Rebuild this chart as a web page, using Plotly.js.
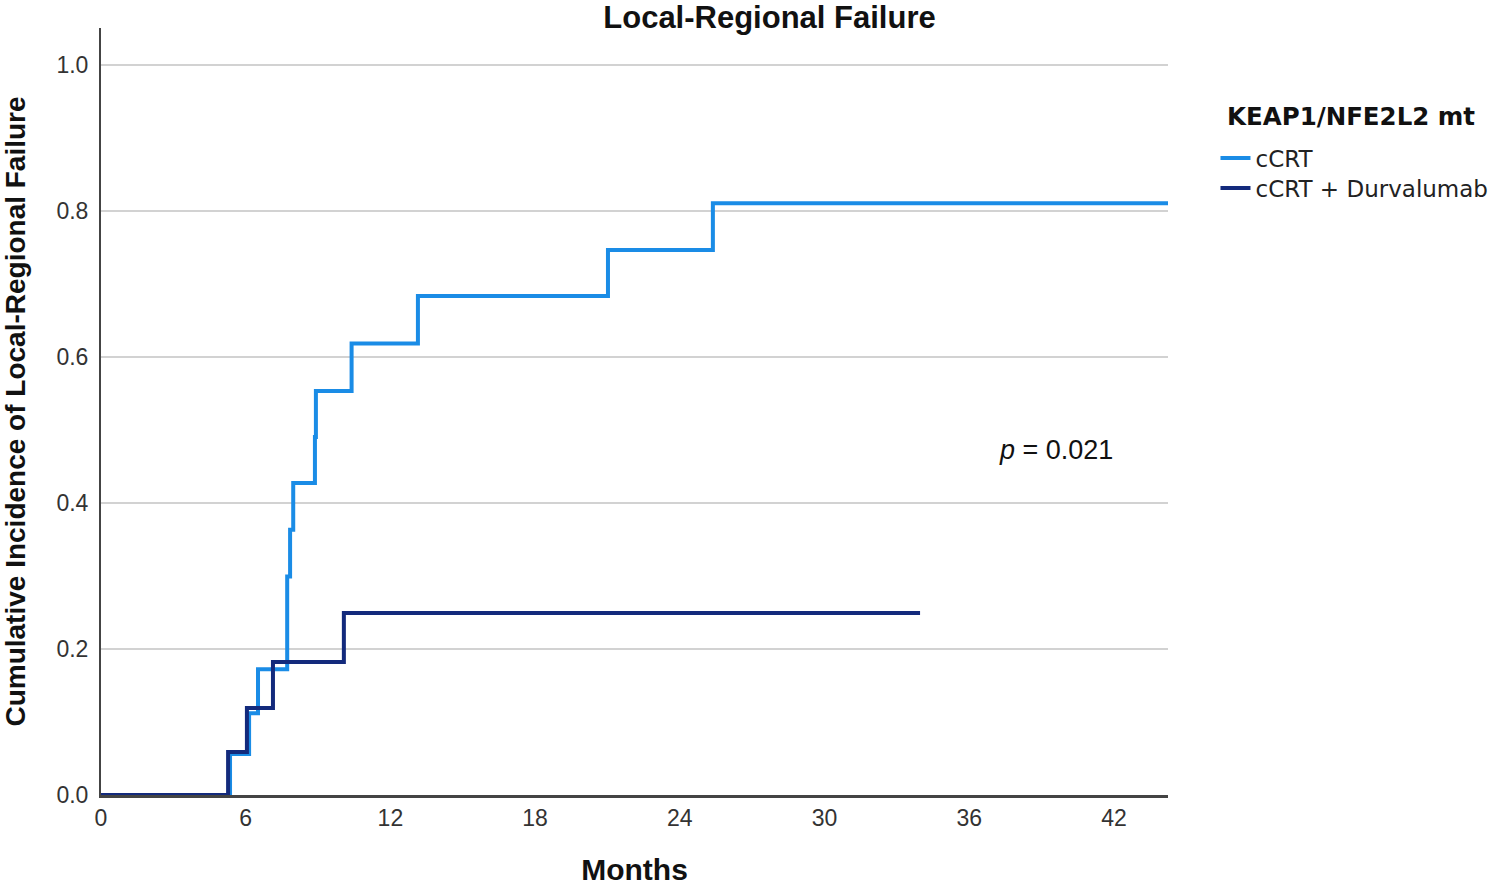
<!DOCTYPE html>
<html>
<head>
<meta charset="utf-8">
<script src="https://cdn.plot.ly/plotly-3.0.1.min.js"></script>
<style>html,body{margin:0;padding:0;background:#fff;}#chart{width:1500px;height:886px;}</style>
</head>
<body>
<div id="chart"></div>
<script>
// Cumulative incidence step data (months, cumulative incidence)
const ccrtMonths = [0, 5.35, 6.14, 6.51, 7.72, 7.84, 7.97, 8.87, 8.91, 10.39, 13.14, 21.02, 25.37, 44.24];
const ccrtIncidence = [0, 0.056, 0.112, 0.172, 0.299, 0.363, 0.427, 0.490, 0.553, 0.618, 0.683, 0.746, 0.810, 0.810];
const durvaMonths = [0, 5.27, 6.05, 7.13, 10.07, 33.96];
const durvaIncidence = [0, 0.059, 0.119, 0.182, 0.249, 0.249];
const seriesNames = ["cCRT", "cCRT + Durvalumab"];
const legendTitle = "KEAP1/NFE2L2 mt";
const xTicks = [0, 6, 12, 18, 24, 30, 36, 42];
const yTicks = [0.0, 0.2, 0.4, 0.6, 0.8, 1.0];
const pText = "<i>p</i> = 0.021";

const traces = [
  {x: ccrtMonths, y: ccrtIncidence, name: seriesNames[0], mode: "lines", legend: "legend",
   line: {shape: "hv", color: "#1a8ce6", width: 4}},
  {x: durvaMonths, y: durvaIncidence, name: seriesNames[1], mode: "lines", legend: "legend2",
   line: {shape: "hv", color: "#132a7c", width: 4}}
];

const legendFont = {family: "DejaVu Sans, sans-serif", size: 23, color: "#222"};
const baseFont = "Liberation Sans, Arial, sans-serif";

const layout = {
  width: 1500, height: 886,
  margin: {l: 101, r: 332, t: 28, b: 91, autoexpand: false},
  paper_bgcolor: "#fff", plot_bgcolor: "#fff",
  title: {text: "<b>Local-Regional Failure</b>", x: 0.513, xref: "container", xanchor: "center",
          y: 0.981, yref: "container", yanchor: "middle",
          font: {family: baseFont, size: 31, color: "#111"}},
  xaxis: {
    range: [0, 44.24], tickvals: xTicks, ticktext: xTicks.map(String),
    showgrid: false, zeroline: false, showline: true, linecolor: "#444", linewidth: 3,
    ticks: "", ticklabelstandoff: 0,
    tickfont: {family: baseFont, size: 23, color: "#333"},
    title: {text: "<b>Months</b>", standoff: 34,
            font: {family: baseFont, size: 30, color: "#111"}},
    fixedrange: true
  },
  yaxis: {
    range: [0, 1.05], tickvals: yTicks, ticktext: yTicks.map(v => v.toFixed(1)),
    showgrid: true, gridcolor: "#d2d2d2", gridwidth: 2,
    zeroline: false, showline: true, linecolor: "#444", linewidth: 2,
    ticks: "", ticklabelstandoff: 6,
    tickfont: {family: baseFont, size: 23, color: "#333"},
    title: {text: "<b>Cumulative Incidence of Local-Regional Failure</b>", standoff: 28,
            font: {family: baseFont, size: 28, color: "#111"}},
    fixedrange: true
  },
  showlegend: true,
  legend: {
    x: 1.0445, xanchor: "left", y: 0.8305, yanchor: "middle",
    bgcolor: "rgba(0,0,0,0)", borderwidth: 0, font: legendFont, itemwidth: 30
  },
  legend2: {
    x: 1.0445, xanchor: "left", y: 0.7914, yanchor: "middle",
    bgcolor: "rgba(0,0,0,0)", borderwidth: 0, font: legendFont, itemwidth: 30
  },
  annotations: [
    {x: 39.6, y: 0.4726, xref: "x", yref: "y", text: pText, showarrow: false,
     xanchor: "center", yanchor: "middle",
     font: {family: baseFont, size: 27, color: "#111"}},
    {x: 1.1715, y: 0.884, xref: "paper", yref: "paper", text: "<b>" + legendTitle + "</b>",
     showarrow: false, xanchor: "center", yanchor: "middle",
     font: {family: "DejaVu Sans, sans-serif", size: 24.5, color: "#111"}}
  ]
};

Plotly.newPlot("chart", traces, layout, {displayModeBar: false, staticPlot: true});
</script>
</body>
</html>
